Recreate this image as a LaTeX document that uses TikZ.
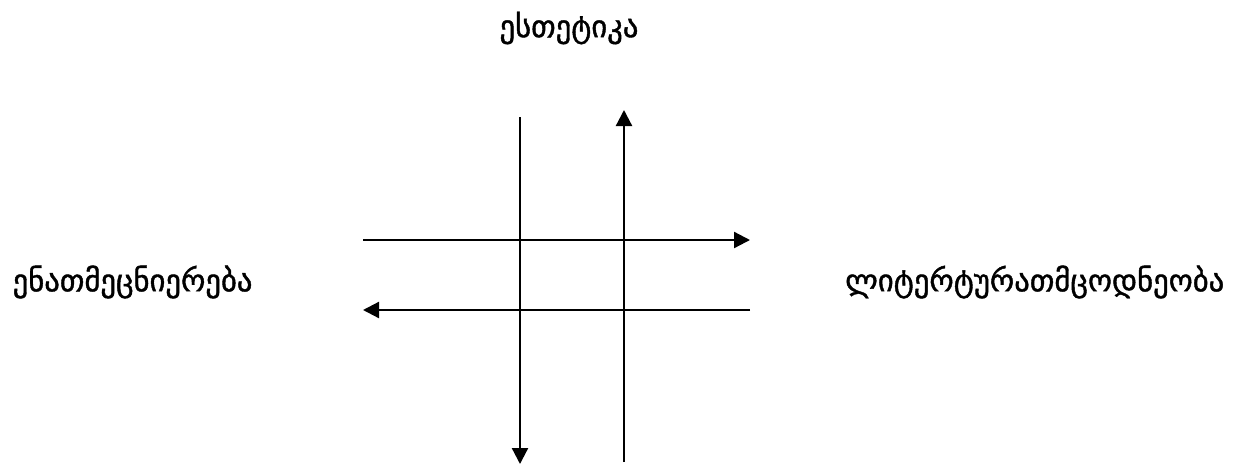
\documentclass[tikz,border=0pt]{standalone}
\usepackage{fontspec}
\newfontfamily\geofont[Script=Georgian,BoldFont={DejaVu Sans},BoldFeatures={FakeBold=1.3}]{DejaVu Sans}
\usetikzlibrary{arrows.meta}

\begin{document}
\begin{tikzpicture}[x=0.75pt,y=-0.75pt,
  every node/.style={font=\geofont\bfseries\fontsize{23}{27}\selectfont},
  axis/.style={line width=1.7pt,-{Triangle[length=12pt,width=12pt]}}]
\useasboundingbox (0,0) rectangle (1235,465);
\node (top) at (569,28) {ესთეტიკა};
\node[anchor=west] (left) at (8,282) {ენათმეცნიერება};
\node[anchor=east] (right) at (1229,282) {ლიტერტურათმცოდნეობა};
\coordinate (d1) at (520,117);
\coordinate (d2) at (520,464);
\coordinate (u1) at (624,462);
\coordinate (u2) at (624,110);
\coordinate (r1) at (363,240);
\coordinate (r2) at (750,240);
\coordinate (l1) at (750,310);
\coordinate (l2) at (363,310);
\draw[axis] (d1) -- (d2);
\draw[axis] (u1) -- (u2);
\draw[axis] (r1) -- (r2);
\draw[axis] (l1) -- (l2);
\end{tikzpicture}
\end{document}
